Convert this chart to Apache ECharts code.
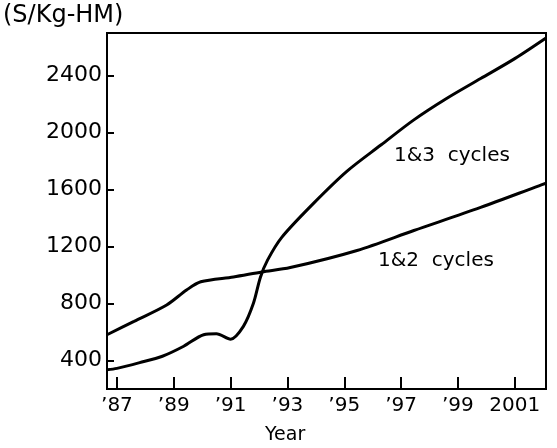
<!DOCTYPE html>
<html>
<head>
<meta charset="utf-8">
<script src="https://cdn.jsdelivr.net/npm/echarts@6/dist/echarts.min.js"></script>
<style>
  html, body { margin: 0; padding: 0; background: #fff; }
  #chart { width: 557px; height: 448px; }
</style>
</head>
<body>
<div id="chart"></div>
<script>
// x axis counts years from 1987, so ticks fall on odd years
var baseYear = 1987;
var xTickYears = [1987, 1989, 1991, 1993, 1995, 1997, 1999, 2001];
var xTickLabels = ['\u201987', '\u201989', '\u201991', '\u201993', '\u201995', '\u201997', '\u201999', '2001'];
var yTicks = [400, 800, 1200, 1600, 2000, 2400];

// 1&3 cycles
var years13 = [1986.65, 1987, 1987.8, 1988.6, 1989.35, 1990.05, 1990.5, 1991.0, 1991.45, 1991.8, 1992.05, 1992.3, 1992.8, 1993.9, 1995.1, 1996.3, 1997.45, 1998.6, 1999.8, 2001.0, 2002.1];
var cost13 = [335, 345, 385, 430, 500, 581, 588, 550, 640, 800, 985, 1105, 1265, 1500, 1730, 1915, 2090, 2240, 2380, 2520, 2665];

// 1&2 cycles
var years12 = [1986.65, 1987.6, 1988.75, 1989.45, 1989.95, 1991.1, 1992.1, 1993.1, 1995.45, 1997.45, 1999.8, 2001.85, 2002.1];
var cost12 = [581, 675, 790, 895, 953, 987, 1022, 1053, 1173, 1313, 1475, 1627, 1645];

function pairs(years, vals) {
    var out = [];
    for (var i = 0; i < years.length; i++) {
        out.push([years[i] - baseYear, vals[i]]);
    }
    return out;
}

var xTickVals = xTickYears.map(function (y) { return y - baseYear; });

var font = 'DejaVu Sans';
var chart = echarts.init(document.getElementById('chart'));

var lineStyle = { color: '#000', width: 3 };

chart.setOption({
    animation: false,
    backgroundColor: '#fff',
    grid: {
        left: 107, right: 11, top: 33, bottom: 59,
        show: true, borderColor: '#000', borderWidth: 2
    },
    xAxis: {
        type: 'value',
        min: 1986.65 - baseYear,
        max: 2002.1 - baseYear,
        splitLine: { show: false },
        axisLine: { onZero: false, lineStyle: { color: '#000', width: 2 } },
        axisTick: { inside: true, length: 12, customValues: xTickVals, lineStyle: { color: '#000', width: 2 } },
        axisLabel: {
            customValues: xTickVals,
            color: '#000', fontFamily: font, fontSize: 20, margin: 7,
            formatter: function (v) {
                var i = xTickVals.indexOf(Math.round(v));
                return i >= 0 ? xTickLabels[i] : '';
            }
        }
    },
    yAxis: {
        type: 'value',
        min: 200,
        max: 2700,
        splitLine: { show: false },
        axisLine: { onZero: false, lineStyle: { color: '#000', width: 2 } },
        axisTick: { inside: true, length: 7, customValues: yTicks, lineStyle: { color: '#000', width: 2 } },
        axisLabel: {
            customValues: yTicks,
            color: '#000', fontFamily: font, fontSize: 22, margin: 5,
            formatter: function (v) { return String(v); }
        }
    },
    graphic: [
        { type: 'text', left: 3, top: 4, style: { text: '(S/Kg-HM)', fill: '#000', fontFamily: font, fontSize: 24 } },
        { type: 'text', left: 394, top: 146, style: { text: '1&3  cycles', fill: '#000', fontFamily: font, fontSize: 20 } },
        { type: 'text', left: 378, top: 251, style: { text: '1&2  cycles', fill: '#000', fontFamily: font, fontSize: 20 } },
        { type: 'text', left: 265, top: 426, style: { text: 'Year', fill: '#000', fontFamily: font, fontSize: 19 } }
    ],
    series: [
        {
            name: '1&3 cycles', type: 'line', data: pairs(years13, cost13),
            smooth: 0.3, showSymbol: false, lineStyle: lineStyle
        },
        {
            name: '1&2 cycles', type: 'line', data: pairs(years12, cost12),
            smooth: 0.3, showSymbol: false, lineStyle: lineStyle
        }
    ]
});
</script>
</body>
</html>
